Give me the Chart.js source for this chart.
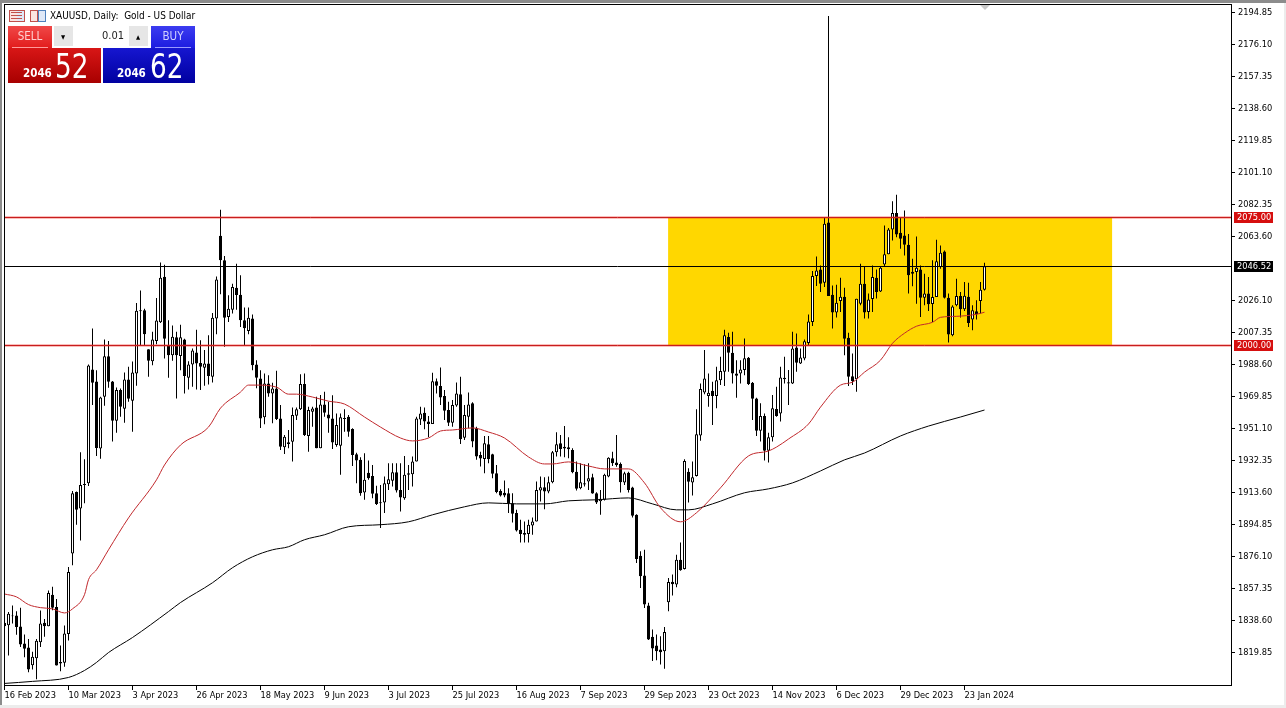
<!DOCTYPE html>
<html>
<head>
<meta charset="utf-8">
<title>XAUUSD, Daily</title>
<script src="https://cdn.jsdelivr.net/npm/chart.js@4"></script>
<style>
  html, body { margin: 0; padding: 0; background: #fff; width: 1286px; height: 708px; overflow: hidden; }
  canvas { position: absolute; left: 0; top: 0; }
  .t { position: absolute; white-space: nowrap; font-family: "DejaVu Sans Condensed", "Noto Sans", sans-serif; color: #fff; }
  .b { position: absolute; }
  .n { transform: scaleX(.86); transform-origin: left top; }
</style>
</head>
<body>
<canvas id="grafico" width="1286" height="708"></canvas>

<!-- painel do topo -->
<div class="b" style="left:9px;top:10px;width:14px;height:10px;border:1px solid #c0504d;background:linear-gradient(90deg,#fbe3e0 50%,#dfe8f7 50%)"></div>
<div class="b" style="left:11px;top:12px;width:11px;height:1px;background:#c0504d"></div>
<div class="b" style="left:11px;top:15px;width:11px;height:1px;background:#c0504d"></div>
<div class="b" style="left:11px;top:18px;width:11px;height:1px;background:#c0504d"></div>
<div class="b" style="left:30px;top:10px;width:6px;height:10px;border:1px solid #c0504d;background:#fbe3e0"></div>
<div class="b" style="left:38px;top:10px;width:6px;height:10px;border:1px solid #4f81bd;background:#dfe8f7"></div>
<div class="t" style="left:50px;top:10px;font-size:9.95px;color:#000">XAUUSD, Daily:&nbsp; Gold - US Dollar</div>

<div class="b" style="left:8px;top:26px;width:44px;height:22px;background:linear-gradient(#f04848,#e21c1c)"></div>
<div class="b" style="left:12px;top:47px;width:36px;height:1px;background:#ff9a9a"></div>
<div class="b" style="left:8px;top:48px;width:93px;height:35px;background:linear-gradient(#d81616,#a80000)"></div>
<div class="t" style="left:8px;width:44px;top:29px;text-align:center;font-size:11.5px;color:#ffd0d0">SELL</div>
<div class="t" style="left:23px;top:66px;font-size:11.5px;font-weight:bold">2046</div>
<div class="t n" style="left:55px;top:44px;font-size:34px;line-height:44px">52</div>

<div class="b" style="left:54px;top:26px;width:19px;height:20px;background:#e6e6e6"></div>
<div class="b" style="left:73px;top:26px;width:56px;height:20px;background:#fff"></div>
<div class="b" style="left:129px;top:26px;width:19px;height:20px;background:#e6e6e6"></div>
<div class="t" style="left:61px;top:33px;font-size:6px;color:#000">&#9660;</div>
<div class="t" style="left:136px;top:33px;font-size:6px;color:#000">&#9650;</div>
<div class="t" style="left:73px;width:51px;top:29px;text-align:right;font-size:11px;color:#222">0.01</div>

<div class="b" style="left:151px;top:26px;width:44px;height:22px;background:linear-gradient(#3c3cf0,#1c1ce0)"></div>
<div class="b" style="left:155px;top:47px;width:36px;height:1px;background:#9a9aff"></div>
<div class="b" style="left:103px;top:48px;width:92px;height:35px;background:linear-gradient(#1616d0,#0000a0)"></div>
<div class="t" style="left:151px;width:44px;top:29px;text-align:center;font-size:11.5px;color:#d0d0ff">BUY</div>
<div class="t" style="left:117px;top:66px;font-size:11.5px;font-weight:bold">2046</div>
<div class="t n" style="left:150px;top:44px;font-size:34px;line-height:44px">62</div>

<div class="b" style="left:980px;top:5px;width:0;height:0;border-left:5px solid transparent;border-right:5px solid transparent;border-top:5px solid #c8c8c8"></div>

<script>
const highs = [
  1838.5,1843.9,1847.6,1844.3,1846.3,1830.7,1828.1,1820.5,1828.1,1844.7,
  1839.8,1856.4,1858.7,1851.5,1824.2,1835.9,1870.2,1914.8,1914.5,1937.4,
  1933.3,1988.8,2009.9,1985.5,1970.0,2003.5,2002.7,1979.2,1975.4,1974.8,
  1984.2,1987.5,1990.6,2024.9,2032.3,2021.6,1997.8,2008.0,2027.8,2048.7,
  2047.3,2014.8,2011.7,2008.0,2012.2,2004.0,1990.8,1998.2,2009.3,2003.1,
  1997.3,2006.0,2019.0,2040.5,2079.5,2052.4,2029.4,2036.2,2047.9,2041.1,
  2022.2,2022.2,2018.1,1991.4,1985.5,1983.6,1982.6,1978.2,1985.2,1965.1,
  1947.6,1950.5,1963.7,1963.7,1983.2,1983.6,1964.1,1964.1,1970.0,1971.0,
  1972.9,1967.0,1970.9,1960.2,1960.2,1962.6,1959.3,1951.5,1937.2,1934.5,
  1936.8,1932.6,1930.0,1917.8,1918.3,1923.2,1931.0,1931.0,1931.0,1931.0,
  1935.3,1930.0,1934.9,1958.3,1964.1,1963.7,1958.7,1984.0,1980.7,1987.1,
  1973.9,1967.0,1968.0,1978.3,1981.7,1965.1,1972.5,1966.7,1952.4,1937.8,
  1947.0,1947.0,1936.6,1930.0,1915.8,1920.9,1916.4,1913.5,1903.7,1897.9,
  1896.9,1897.9,1899.2,1920.3,1923.2,1922.8,1923.2,1938.2,1949.1,1947.6,
  1952.8,1946.2,1939.8,1932.0,1931.0,1930.4,1931.0,1924.8,1914.0,1915.4,
  1924.8,1934.5,1937.8,1947.6,1931.4,1926.1,1926.1,1917.2,1901.2,1879.4,
  1880.3,1849.2,1833.6,1830.7,1829.7,1835.1,1863.8,1865.8,1877.4,1884.6,
  1933.3,1928.1,1932.0,1962.6,1977.8,1997.3,1983.6,1978.8,1987.5,1993.4,
  2009.3,2007.4,2008.0,1991.4,1991.4,2004.1,1993.2,1978.6,1969.4,1966.1,
  1960.2,1948.9,1971.0,1975.8,1987.5,1993.4,1985.6,2008.0,2007.0,1998.2,
  2003.5,2018.1,2043.6,2052.2,2046.9,2075.2,2193.0,2035.2,2035.6,2039.7,
  2033.9,2007.4,1995.3,2027.4,2047.9,2046.5,2030.4,2046.9,2044.6,2046.4,
  2070.3,2068.8,2084.5,2088.4,2075.2,2079.1,2065.4,2050.8,2063.9,2046.9,
  2042.0,2040.1,2049.9,2061.9,2058.6,2055.7,2030.4,2023.6,2039.1,2031.4,
  2037.2,2036.8,2023.6,2026.5,2037.2,2048.5
];
const lows = [
  1833.5,1818.4,1837.1,1830.5,1823.3,1817.4,1808.6,1810.2,1804.4,1823.3,
  1829.3,1835.5,1844.9,1812.5,1809.2,1811.8,1827.2,1871.2,1895.0,1885.8,
  1907.6,1917.7,1965.1,1935.3,1933.7,1964.7,1975.2,1943.7,1948.9,1958.3,
  1954.8,1967.1,1949.5,1976.4,2000.2,2000.2,1981.7,1988.5,2000.8,2013.2,
  1992.4,1981.1,1991.0,1969.0,1985.5,1971.9,1974.2,1975.8,1974.2,1973.9,
  1976.4,1977.2,1978.3,2006.6,2030.0,1999.2,2013.8,2018.7,2021.0,2010.9,
  2000.2,2006.6,1985.5,1975.0,1951.6,1953.8,1970.0,1954.4,1956.3,1938.8,
  1936.5,1939.8,1932.0,1956.3,1962.2,1947.0,1937.8,1952.4,1939.8,1939.8,
  1958.3,1948.9,1939.4,1940.7,1924.2,1949.5,1946.6,1929.4,1919.3,1911.9,
  1909.6,1921.3,1910.5,1906.6,1893.0,1901.8,1915.4,1917.4,1913.9,1902.7,
  1909.6,1915.4,1917.4,1932.0,1953.4,1950.9,1946.2,1954.0,1971.9,1965.1,
  1956.3,1952.8,1952.4,1964.1,1942.3,1944.6,1951.5,1940.4,1933.0,1929.1,
  1925.2,1931.0,1922.2,1913.5,1911.5,1911.1,1901.8,1896.3,1891.0,1884.6,
  1884.6,1884.6,1889.1,1896.9,1908.6,1904.1,1913.5,1919.3,1934.9,1934.9,
  1934.5,1933.9,1925.2,1915.0,1915.8,1917.4,1915.4,1913.1,1907.2,1900.8,
  1909.2,1922.8,1929.4,1929.0,1913.9,1918.3,1913.9,1899.2,1872.6,1857.9,
  1846.2,1827.4,1815.1,1815.6,1813.1,1810.6,1844.3,1853.5,1858.3,1868.0,
  1868.7,1908.0,1912.1,1923.2,1944.2,1971.5,1964.1,1953.4,1963.2,1976.8,
  1976.2,1984.6,1977.8,1969.4,1977.8,1982.6,1976.8,1956.3,1947.0,1943.7,
  1932.6,1931.4,1943.7,1958.3,1955.4,1977.8,1965.1,1977.4,1984.6,1989.1,
  1991.4,2000.2,2011.5,2034.9,2031.4,2034.3,2029.0,2009.9,2016.4,2019.7,
  1994.3,1976.2,1976.8,1972.9,2023.6,2015.8,2015.8,2019.7,2027.5,2031.4,
  2046.4,2053.4,2061.5,2063.5,2056.7,2052.8,2030.4,2034.7,2024.5,2016.7,
  2023.6,2020.2,2013.8,2028.4,2045.0,2027.5,2001.7,2005.4,2023.0,2016.4,
  2020.2,2010.9,2008.9,2015.2,2018.7,2032.3
];
const opens = [
  1835.5,1836.1,1841.8,1841.8,1835.4,1825.4,1823.1,1812.7,1816.8,1826.2,
  1837.5,1835.5,1853.9,1846.8,1814.5,1814.1,1830.9,1878.2,1914.1,1904.5,
  1918.9,1919.3,1985.9,1978.9,1939.6,1970.0,1993.7,1978.9,1955.9,1973.9,
  1963.0,1980.1,1967.6,1983.6,2020.6,2020.6,1997.8,1990.8,2002.7,2013.6,
  2040.3,2000.0,1994.3,2004.8,1993.9,2003.5,1981.1,1988.9,1995.9,1989.8,
  1986.9,1989.5,1981.7,2015.8,2064.3,2049.9,2016.7,2021.0,2033.9,2029.8,
  2014.8,2008.5,2015.8,1988.9,1980.7,1957.9,1977.8,1971.9,1974.8,1957.3,
  1940.4,1943.3,1943.6,1958.9,1962.6,1977.4,1947.0,1961.2,1963.7,1939.8,
  1965.5,1959.6,1957.3,1941.7,1941.3,1957.5,1958.3,1951.1,1936.3,1933.0,
  1913.9,1925.5,1923.6,1913.5,1908.2,1908.0,1918.7,1920.7,1925.7,1915.4,
  1910.5,1924.2,1924.6,1932.0,1956.7,1960.6,1955.4,1954.0,1979.1,1976.2,
  1970.4,1962.2,1954.8,1964.9,1971.5,1946.0,1958.3,1966.1,1951.5,1935.9,
  1933.5,1942.1,1936.3,1925.2,1914.8,1913.7,1913.5,1907.6,1901.8,1892.0,
  1890.1,1889.5,1894.6,1896.9,1915.0,1917.0,1914.4,1919.9,1937.4,1942.7,
  1940.7,1940.4,1938.8,1926.1,1916.4,1919.3,1920.3,1922.8,1913.5,1908.8,
  1909.6,1923.2,1933.9,1931.4,1930.6,1919.7,1925.5,1916.8,1900.8,1876.8,
  1865.2,1847.6,1829.3,1824.2,1821.9,1820.9,1849.6,1861.6,1859.9,1874.5,
  1869.0,1926.0,1919.7,1923.6,1947.2,1972.5,1970.4,1973.5,1970.4,1979.7,
  1984.6,2005.0,1995.7,1983.6,1983.6,1985.6,1992.8,1978.2,1969.0,1950.1,
  1958.7,1938.4,1946.2,1962.8,1960.2,1981.1,1978.5,1977.8,1998.8,1989.5,
  1992.4,2001.5,2013.8,2040.7,2044.6,2036.8,2072.1,2029.8,2019.3,2026.1,
  2028.6,2004.6,1982.0,1980.3,2024.5,2036.2,2019.7,2027.3,2039.7,2031.7,
  2047.5,2053.4,2068.0,2077.7,2066.0,2064.5,2059.0,2042.0,2043.0,2044.6,
  2028.0,2030.4,2024.3,2028.4,2046.0,2055.1,2028.0,2006.0,2023.6,2029.0,
  2021.2,2028.6,2015.2,2020.0,2026.1,2032.7
];
const closes = [
  1837.5,1842.9,1841.4,1835.0,1824.8,1822.3,1810.2,1817.6,1827.0,1837.1,
  1835.5,1855.0,1846.3,1812.5,1813.7,1831.3,1867.3,1913.5,1903.7,1918.3,
  1918.3,1988.3,1978.2,1940.0,1969.6,1993.7,1978.7,1955.9,1973.9,1964.1,
  1980.1,1968.8,1984.2,2020.4,2020.0,2006.6,1991.0,2003.5,2014.6,2039.7,
  2003.9,1994.3,2005.2,1994.3,2004.8,1982.2,1988.9,1997.0,1989.5,1987.5,
  1989.5,1982.2,2016.3,2038.6,2049.9,2016.3,2021.6,2034.3,2029.6,2014.8,
  2010.1,2016.3,1988.5,1981.1,1957.3,1977.8,1971.9,1974.8,1956.9,1940.7,
  1946.6,1942.3,1959.3,1962.6,1977.4,1947.6,1962.2,1963.1,1939.8,1965.5,
  1960.6,1957.3,1943.1,1953.4,1957.9,1956.9,1949.5,1935.9,1932.6,1913.5,
  1921.3,1922.2,1913.1,1907.2,1907.6,1919.3,1921.6,1925.7,1915.0,1910.9,
  1924.2,1925.2,1932.0,1957.3,1960.2,1955.4,1954.0,1979.1,1976.4,1969.6,
  1961.8,1954.8,1965.1,1971.9,1945.0,1959.3,1965.5,1943.7,1934.9,1933.8,
  1942.7,1933.3,1924.8,1914.1,1912.1,1912.1,1907.6,1901.4,1891.6,1889.5,
  1889.1,1895.0,1896.9,1915.4,1917.0,1914.4,1919.9,1937.4,1942.1,1939.4,
  1939.6,1939.2,1925.7,1916.0,1919.9,1918.5,1922.2,1913.3,1908.0,1910.2,
  1924.2,1934.3,1931.0,1930.0,1919.9,1925.2,1915.4,1900.2,1874.9,1864.8,
  1848.2,1827.8,1822.5,1820.9,1820.3,1832.2,1861.4,1860.1,1874.5,1868.3,
  1932.4,1920.1,1922.8,1948.0,1974.5,1980.7,1972.3,1970.4,1979.7,1985.0,
  2006.0,1995.7,1983.6,1982.3,1986.0,1992.6,1977.4,1968.8,1950.1,1958.7,
  1938.4,1946.2,1963.2,1958.7,1981.3,1980.3,1977.8,1998.2,1989.9,1993.0,
  2002.5,2014.0,2040.7,2044.0,2036.2,2071.3,2029.0,2019.3,2025.1,2028.6,
  2003.9,1981.7,1979.1,2027.4,2036.2,2019.3,2026.9,2040.1,2031.4,2045.6,
  2053.4,2068.0,2077.7,2065.0,2062.5,2059.0,2041.1,2043.2,2045.6,2028.0,
  2030.4,2024.1,2028.4,2049.3,2054.3,2028.0,2006.4,2022.8,2029.0,2021.2,
  2029.2,2013.2,2020.6,2018.3,2032.7,2046.5
];

// media vermelha (barra, preco)
const maRedBars = [0,3,6,9,12,15,17,20,21,23,26,31,38,40,44,51,54,59,61,63,68,71,73,77,81,85,90,94,99,102,106,109,112,117,121,125,131,135,137,141,146,150,156,160,164,169,173,179,186,191,193,196,201,204,209,212,215,219,222,225,228,232,234,238,243,245];
const maRedValues = [1854.4,1852.7,1848.2,1846.4,1845.7,1843.3,1845.7,1854.0,1862.8,1868.6,1880.3,1899.0,1921.3,1930.0,1941.7,1952.2,1963.3,1972.7,1976.8,1976.8,1975.6,1971.5,1971.5,1969.8,1967.4,1965.7,1958.1,1952.2,1945.8,1944.1,1945.8,1949.9,1950.5,1951.7,1949.3,1945.8,1934.7,1930.6,1930.6,1931.8,1929.4,1927.7,1927.7,1919.5,1904.9,1896.7,1902.0,1916.6,1935.3,1938.2,1940.5,1945.2,1954.0,1963.9,1976.8,1978.5,1984.4,1991.4,2001.3,2007.2,2011.3,2013.6,2016.5,2017.1,2018.3,2019.5];
// media preta
const maBlackBars = [0,7,16,20,23,26,32,41,44,52,57,62,67,71,75,80,86,94,101,107,115,121,128,135,141,148,156,162,168,171,177,185,191,197,204,210,215,224,231,239,245];
const maBlackValues = [1802.0,1803.2,1805.5,1809.6,1814.3,1820.1,1828.9,1844.1,1849.4,1861.0,1869.8,1876.2,1880.3,1882.1,1886.2,1889.1,1893.8,1895.0,1896.7,1900.8,1905.5,1907.8,1907.2,1907.2,1909.0,1909.6,1910.7,1907.2,1903.7,1903.7,1907.2,1913.7,1916.0,1919.5,1926.5,1933.0,1937.0,1947.0,1952.8,1958.1,1962.2];

const priceTicks = [2194.85,2176.10,2157.35,2138.60,2119.85,2101.10,2082.35,2063.60,2026.10,2007.35,1988.60,1969.85,1951.10,1932.35,1913.60,1894.85,1876.10,1857.35,1838.60,1819.85];
const dateBars = [0,16,32,48,64,80,96,112,128,144,160,176,192,208,224,240];
const dateLabels = ['16 Feb 2023','10 Mar 2023','3 Apr 2023','26 Apr 2023','18 May 2023','9 Jun 2023','3 Jul 2023','25 Jul 2023','16 Aug 2023','7 Sep 2023','29 Sep 2023','23 Oct 2023','14 Nov 2023','6 Dec 2023','29 Dec 2023','23 Jan 2024'];

const lastPrice = 2046.52;
const redLevels = [2075, 2000];
const boxBars = [165.9, 276.9];
const xLimits = [-0.125, 306.625];
const yLimits = [1801.08, 2199.51];

const fonte = '"DejaVu Sans Condensed", "Noto Sans", sans-serif';

function media(barras, valores, cor) {
  return {
    type: 'line',
    data: barras.map((b, i) => ({ x: b, y: valores[i] })),
    borderColor: cor,
    borderWidth: 1,
    pointRadius: 0,
    cubicInterpolationMode: 'monotone',
    order: 2
  };
}

function linha(c, a, y, cor, largura) {
  c.strokeStyle = cor;
  c.lineWidth = largura;
  c.beginPath();
  c.moveTo(a.left, y);
  c.lineTo(a.right, y);
  c.stroke();
}

const fundo = {
  id: 'fundo',
  beforeDatasetsDraw(chart) {
    const c = chart.ctx, sx = chart.scales.x, sy = chart.scales.y;
    const x0 = sx.getPixelForValue(boxBars[0]), x1 = sx.getPixelForValue(boxBars[1]);
    const y0 = sy.getPixelForValue(redLevels[0]), y1 = sy.getPixelForValue(redLevels[1]);
    c.fillStyle = '#ffd700';
    c.fillRect(x0, y0, x1 - x0, y1 - y0);
  },
  afterDatasetsDraw(chart) {
    // linhas de nivel sempre em pixel inteiro
    const c = chart.ctx, a = chart.chartArea, sy = chart.scales.y;
    redLevels.forEach(v => {
      const y = Math.floor(sy.getPixelForValue(v)) + 0.5;
      linha(c, a, y, 'rgba(240,40,30,0.3)', 3);
      linha(c, a, y, '#c81e1e', 1);
    });
    linha(c, a, Math.floor(sy.getPixelForValue(lastPrice)) + 0.5, '#000', 1);
  },
  afterDraw(chart) {
    const c = chart.ctx, a = chart.chartArea, sy = chart.scales.y;
    // moldura do grafico
    c.strokeStyle = '#000';
    c.lineWidth = 1;
    c.strokeRect(a.left + 0.5, a.top - 0.5, a.right - a.left, a.bottom - a.top + 1);
    // borda da janela
    c.fillStyle = '#8c8c8c';
    c.fillRect(0, 0, 1286, 3);
    c.fillRect(0, 0, 2, 708);
    c.fillStyle = '#ececec';
    c.fillRect(0, 705, 1286, 3);
    c.fillRect(1284, 3, 2, 705);
    // etiquetas de preco
    const tags = [[redLevels[0], '#d60f0f'], [lastPrice, '#000'], [redLevels[1], '#d60f0f']];
    c.font = '9.2px ' + fonte;
    c.textBaseline = 'middle';
    tags.forEach(t => {
      const y = Math.floor(sy.getPixelForValue(t[0]));
      c.fillStyle = t[1];
      c.fillRect(1234, y - 5, 39, 11);
      c.fillStyle = '#fff';
      c.fillText(t[0].toFixed(2), 1237, y + 0.5);
    });
  }
};

new Chart(document.getElementById('grafico'), {
  type: 'bar',
  data: {
    datasets: [
      media(maRedBars, maRedValues, '#c0282c'),
      media(maBlackBars, maBlackValues, '#000'),
      {
        // corpo
        data: opens.map((o, i) => ({ x: i, y: [o, closes[i]] })),
        backgroundColor: opens.map((o, i) => closes[i] >= o ? '#fff' : '#000'),
        borderColor: '#000',
        borderWidth: 1,
        borderSkipped: false,
        inflateAmount: 0,
        barThickness: 3,
        grouped: false,
        order: 4
      },
      {
        // pavio
        data: highs.map((h, i) => ({ x: i, y: [lows[i], h] })),
        backgroundColor: '#000',
        borderWidth: 0,
        inflateAmount: 0,
        barThickness: 1,
        grouped: false,
        order: 5
      }
    ]
  },
  options: {
    responsive: false,
    animation: false,
    devicePixelRatio: 1,
    layout: { autoPadding: false, padding: { left: 4, top: 5, right: 0, bottom: 0 } },
    plugins: { legend: { display: false }, tooltip: { enabled: false } },
    scales: {
      x: {
        type: 'linear',
        offset: false,
        min: xLimits[0],
        max: xLimits[1],
        afterBuildTicks: s => { s.ticks = dateBars.map(b => ({ value: b })); },
        afterFit: s => { s.height = 23; s.paddingLeft = 0; s.paddingRight = 0; },
        grid: { offset: false, drawOnChartArea: false, tickLength: 5, color: '#000' },
        border: { color: '#000' },
        ticks: {
          autoSkip: false,
          maxRotation: 0,
          align: 'start',
          padding: 0,
          color: '#000',
          font: { family: fonte, size: 9.2 },
          callback: v => dateLabels[dateBars.indexOf(v)]
        }
      },
      y: {
        position: 'right',
        min: yLimits[0],
        max: yLimits[1],
        afterBuildTicks: s => { s.ticks = priceTicks.map(p => ({ value: p })); },
        afterFit: s => { s.width = 55; s.paddingTop = 0; s.paddingBottom = 0; },
        grid: { drawOnChartArea: false, tickLength: 4, color: '#000' },
        border: { color: '#000' },
        ticks: {
          autoSkip: false,
          padding: 3,
          color: '#000',
          font: { family: fonte, size: 9.2 },
          callback: v => v.toFixed(2)
        }
      }
    }
  },
  plugins: [fundo]
});
</script>
</body>
</html>
